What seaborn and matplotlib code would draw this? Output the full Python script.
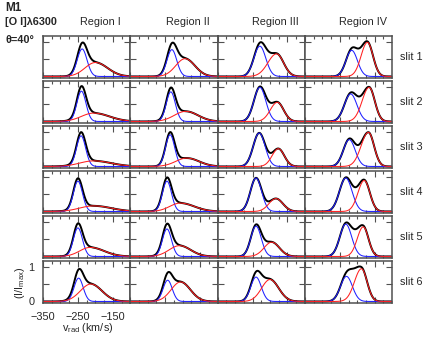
import numpy as np
import pandas as pd
import matplotlib
matplotlib.use('Agg')
import matplotlib.pyplot as plt
import seaborn as sns

regions = ['Region I', 'Region II', 'Region III', 'Region IV']
slits = ['slit 1', 'slit 2', 'slit 3', 'slit 4', 'slit 5', 'slit 6']
vel = np.arange(-350, -99, 2.0)   # km/s

# fitted components, rows = slits, columns = regions
blue_amp = [[0.79, 0.77, 0.87, 0.75],
            [0.87, 0.85, 0.98, 0.79],
            [0.88, 0.91, 0.96, 0.77],
            [0.87, 0.87, 0.96, 0.96],
            [0.82, 0.79, 0.87, 0.93],
            [0.67, 0.61, 0.70, 0.72]]
blue_cen = [[-238, -231, -229, -216],
            [-240, -234, -229, -219],
            [-241, -236, -231, -223],
            [-250, -245, -240, -233],
            [-250, -245, -240, -233],
            [-248, -243, -240, -231]]
blue_sig = [[14, 14, 17, 16.5],
            [13, 13, 17, 18],
            [13, 13, 17, 17],
            [13, 13, 16, 18],
            [13, 13, 15, 17],
            [13, 13, 15, 17]]
red_amp = [[0.40, 0.51, 0.65, 0.98],
           [0.24, 0.29, 0.55, 0.98],
           [0.16, 0.24, 0.51, 0.98],
           [0.16, 0.24, 0.37, 0.89],
           [0.26, 0.31, 0.41, 0.85],
           [0.50, 0.56, 0.63, 0.94]]
red_cen = [[-200, -193, -181, -171],
           [-205, -191, -179, -166],
           [-205, -188, -176, -168],
           [-205, -207, -183, -180],
           [-215, -209, -195, -183],
           [-213, -206, -200, -188]]
red_sig_l = [[30, 27, 25, 18],
             [35, 33, 20, 20],
             [40, 32, 18, 21],
             [40, 30, 20, 18],
             [30, 30, 22, 17],
             [30, 27, 24, 20]]
red_sig_r = [[35, 28, 20, 16],
             [45, 35, 18, 16],
             [50, 35, 17, 16],
             [50, 40, 20, 16],
             [40, 32, 22, 15],
             [32, 28, 25, 16]]
# part of the observed profile left out by the two-component fit
extra_amp = [[0.0, 0.0, 0.0, 0.07],
             [0.0, 0.0, 0.0, 0.05],
             [0.0, 0.0, 0.0, 0.0],
             [0.0, 0.0, 0.0, 0.07],
             [0.0, 0.0, 0.0, 0.18],
             [0.0, 0.0, 0.0, 0.10]]
extra_cen = [[-210, -210, -210, -197],
             [-210, -210, -210, -197],
             [-210, -210, -210, -200],
             [-210, -210, -210, -206],
             [-210, -210, -210, -208],
             [-210, -210, -210, -212]]
extra_sig = 13


def gauss(v, a, c, sl, sr):
    s = np.where(v < c, sl, sr)
    return a * np.exp(-0.5 * ((v - c) / s) ** 2)


W, H = 436, 349
fig = plt.figure(figsize=(W / 100, H / 100), dpi=100)
sns.set_style('ticks')
plt.rcParams['font.family'] = ['Liberation Sans', 'DejaVu Sans']
plt.rcParams['mathtext.fontset'] = 'custom'
plt.rcParams['mathtext.rm'] = 'Liberation Sans'
plt.rcParams['mathtext.it'] = 'Liberation Sans:italic'
fs = 7.8
frame = '#505050'

pw, ph = 87.3, 42.5
for r in range(6):
    for c in range(4):
        left = 43 + pw * c
        top = 35.7 + 45 * r
        ax = fig.add_axes([left / W, 1 - (top + ph) / H, pw / W, ph / H])
        blue = gauss(vel, blue_amp[r][c], blue_cen[r][c], blue_sig[r][c], blue_sig[r][c])
        red = gauss(vel, red_amp[r][c], red_cen[r][c], red_sig_l[r][c], red_sig_r[r][c])
        extra = gauss(vel, extra_amp[r][c], extra_cen[r][c], extra_sig, extra_sig)
        total = blue + red + extra
        sns.lineplot(x=vel, y=total, ax=ax, color='black', lw=1.4, estimator=None)
        sns.lineplot(x=vel, y=blue, ax=ax, color='#2020ff', lw=0.75, estimator=None)
        sns.lineplot(x=vel, y=red, ax=ax, color='#ff2020', lw=0.75, estimator=None)
        ax.set_xlim(-350, -100)
        ax.set_ylim(-0.05, 1.17)
        ax.set_xticks([-350, -250, -150])
        ax.set_xticks(np.arange(-325, -100, 25), minor=True)
        ax.set_yticks([0, 0.5, 1])
        ax.tick_params(which='both', direction='in', top=True, right=True,
                       color=frame, width=0.8, labelsize=fs)
        ax.tick_params(axis='x', pad=6)
        ax.tick_params(axis='y', pad=6)
        ax.tick_params(which='major', length=4.5)
        ax.tick_params(which='minor', length=2.5)
        for sp in ax.spines.values():
            sp.set_color(frame)
            sp.set_linewidth(1.1)
        ax.set_xlabel('')
        ax.set_ylabel('')
        if r == 5 and c == 0:
            ax.set_xticklabels(['\u2212350', '\u2212250', '\u2212150'])
            ax.set_yticklabels(['0', '', '1'])
        else:
            ax.set_xticklabels([])
            ax.set_yticklabels([])
        if r == 0:
            fig.text((left + pw / 2 + 14) / W, 1 - 22 / H, regions[c],
                     ha='center', va='center', fontsize=fs)
    fig.text(400 / W, 1 - (35.7 + 45 * r + ph / 2) / H, slits[r],
             ha='left', va='center', fontsize=fs)

fig.text(5 / W, 1 - 8 / H, 'M1', fontsize=8.5, weight='bold', va='center')
fig.text(5 / W, 1 - 22 / H, '[O I]\u03bb6300', fontsize=fs, weight='bold', va='center')
fig.text(5 / W, 1 - 40 / H, '\u03b8=40\u00b0', fontsize=fs, weight='bold', va='center')
fig.text(88 / W, 1 - 328 / H, 'v$_{\\rm rad}$ (km/s)', fontsize=fs,
         ha='center', va='center')
fig.text(20 / W, 1 - 283 / H, '(I/I$_{\\rm max}$)', fontsize=fs,
         ha='center', va='center', rotation=90)

fig.savefig('out.png', dpi=100)
